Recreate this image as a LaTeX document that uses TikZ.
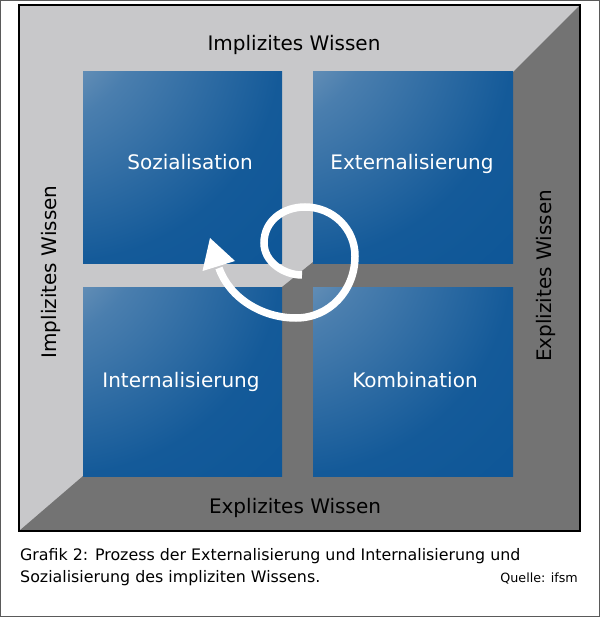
\documentclass[tikz,border=0pt]{standalone}
\usepackage{fontspec}
\setmainfont{DejaVu Sans}
\definecolor{framegray}{HTML}{C8C8CA}
\definecolor{shadegray}{HTML}{737373}
\definecolor{sqlight}{HTML}{BCCBD6}
\definecolor{sqmid}{HTML}{8EAAC4}
\definecolor{sqmid2}{HTML}{4A7EAE}
\definecolor{sqmid3}{HTML}{145A99}
\definecolor{sqdark}{HTML}{0B5597}
\definecolor{pageline}{HTML}{5A5A5A}
\pgfdeclareradialshading{cornerglow}{\pgfpoint{-50bp}{50bp}}{color(0bp)=(sqlight); color(12bp)=(sqmid); color(30bp)=(sqmid2); color(56bp)=(sqmid3); color(80bp)=(sqdark); color(150bp)=(sqdark)}
\tikzset{
  quad/.style={shading=cornerglow, inner sep=0pt, outer sep=0pt, draw=none},
  sqlabel/.style={text=white, font=\fontsize{20}{24}\selectfont, anchor=base, inner sep=0pt},
  sidelabel/.style={text=black, font=\fontsize{20}{24}\selectfont, anchor=base, inner sep=0pt},
  caption/.style={text=black, font=\fontsize{15.85}{19}\selectfont, inner sep=0pt},
  spiral/.style={draw=white, line width=7.5pt}
}
\begin{document}
\begin{tikzpicture}[x=1pt,y=-1pt]
\useasboundingbox (0,0) rectangle (600,617);
\fill[white] (0,0) rectangle (600,617);
\draw[pageline, line width=1pt] (0.8,0.8) rectangle (599.2,616.2);
% frame
\fill[framegray] (19,5) rectangle (580,531);
\fill[shadegray] (580,5) -- (513,72) -- (513,476) -- (83,476) -- (19,531) -- (580,531) -- cycle;
\fill[shadegray] (313,262) -- (513,262) -- (513,287) -- (313,287) -- (313,476) -- (282,476) -- (282,287) -- cycle;
\draw[black, line width=1.5pt] (19,5) rectangle (580,531);
% squares
\node[quad, minimum width=199pt, minimum height=191pt] (soz) at (182.5,167.5) {};
\node[quad, minimum width=200pt, minimum height=191pt] (ext) at (413,167.5) {};
\node[quad, minimum width=199pt, minimum height=189pt] (int) at (182.5,381.5) {};
\node[quad, minimum width=200pt, minimum height=189pt] (kom) at (413,381.5) {};
% square labels
\node[sqlabel] (lsoz) at (190,170) {Sozialisation};
\node[sqlabel] (lext) at (412,170) {Externalisierung};
\node[sqlabel] (lint) at (181,387) {Internalisierung};
\node[sqlabel] (lkom) at (415,387) {Kombination};
% side labels
\node[sidelabel] (top) at (294,51) {Implizites Wissen};
\node[sidelabel] (bottom) at (295,513) {Explizites Wissen};
\node[sidelabel, rotate=90] (left) at (56,272) {Implizites Wissen};
\node[sidelabel, rotate=90] (right) at (551,276) {Explizites Wissen};
% spiral arrow
\coordinate (s0) at (302,275);
\coordinate (s1) at (264,243);
\coordinate (s2) at (305,207);
\coordinate (s3) at (355,256);
\coordinate (s4) at (296,318);
\coordinate (s5) at (219,268);
\draw[spiral] (s0) .. controls (284,275) and (264,262) .. (s1)
  .. controls (264,221) and (283,207) .. (s2)
  .. controls (333,207) and (355,229) .. (s3)
  .. controls (355,291) and (329,318) .. (s4)
  .. controls (262,318) and (229.5,298) .. (s5);
\fill[white] (210,238) -- (202.5,271) -- (235,261) -- cycle;
% caption
\node[caption, anchor=base west] (cap1) at (20,560) {Grafik 2: Prozess der Externalisierung und Internalisierung und};
\node[caption, anchor=base west] (cap2) at (20,582) {Sozialisierung des impliziten Wissens.};
\node[caption, anchor=base east, font=\fontsize{12.7}{15}\selectfont] (src) at (578,582) {Quelle: ifsm};
\end{tikzpicture}
\end{document}
